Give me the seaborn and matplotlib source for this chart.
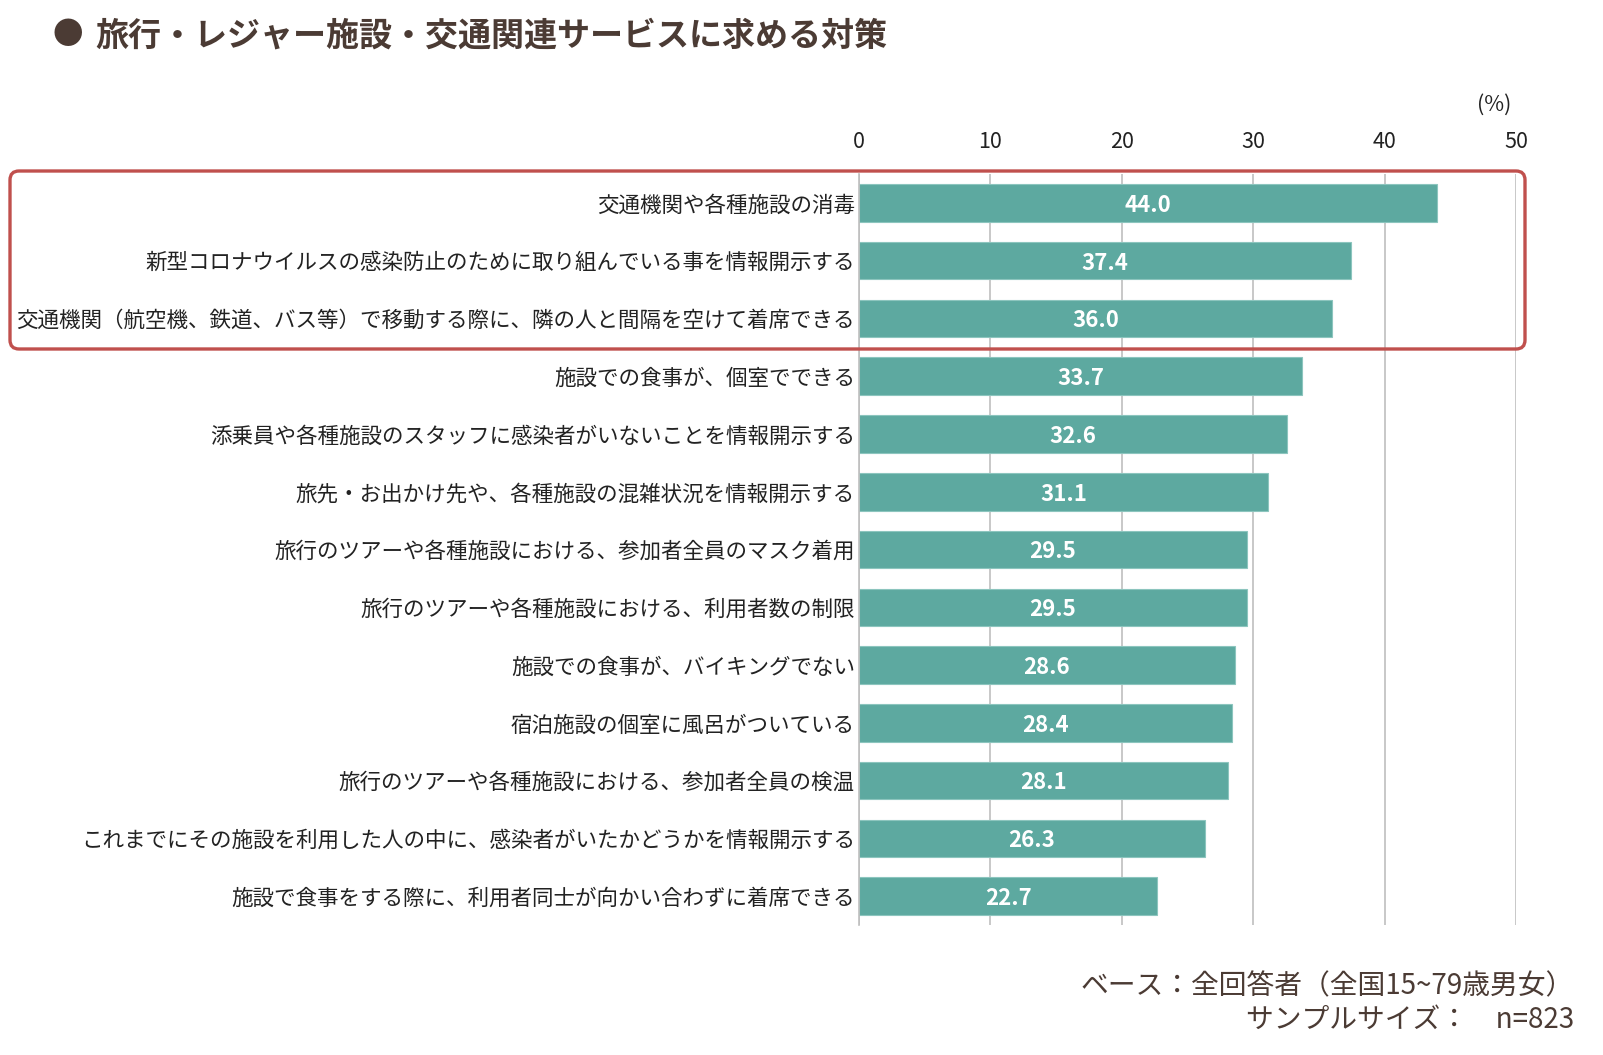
## importando bibliotecas
import matplotlib
matplotlib.use("Agg")
import matplotlib.pyplot as plt
import seaborn as sns
import pandas as pd
from matplotlib.patches import FancyBboxPatch

## dados do gráfico
categorias = [
    "交通機関や各種施設の消毒",
    "新型コロナウイルスの感染防止のために取り組んでいる事を情報開示する",
    "交通機関（航空機、鉄道、バス等）で移動する際に、隣の人と間隔を空けて着席できる",
    "施設での食事が、個室でできる",
    "添乗員や各種施設のスタッフに感染者がいないことを情報開示する",
    "旅先・お出かけ先や、各種施設の混雑状況を情報開示する",
    "旅行のツアーや各種施設における、参加者全員のマスク着用",
    "旅行のツアーや各種施設における、利用者数の制限",
    "施設での食事が、バイキングでない",
    "宿泊施設の個室に風呂がついている",
    "旅行のツアーや各種施設における、参加者全員の検温",
    "これまでにその施設を利用した人の中に、感染者がいたかどうかを情報開示する",
    "施設で食事をする際に、利用者同士が向かい合わずに着席できる",
]
valores = [44.0, 37.4, 36.0, 33.7, 32.6, 31.1, 29.5, 29.5, 28.6, 28.4, 28.1, 26.3, 22.7]
ticks_x = [0, 10, 20, 30, 40, 50]

titulo = "旅行・レジャー施設・交通関連サービスに求める対策"
nota_base = "ベース：全回答者（全国15~79歳男女）"
nota_amostra = "サンプルサイズ：　n=823"

df = pd.DataFrame({"categoria": categorias, "valor": valores})

cor_barra = "#5da9a0"
cor_texto = "#4b3b34"

sns.set_style("white")
plt.rcParams["font.family"] = ["Noto Sans CJK JP", "DejaVu Sans"]

fig = plt.figure(figsize=(16.03, 10.55), dpi=100)
ax = fig.add_axes([0.5359, 0.1232, 0.4099, 0.7118])

sns.barplot(
    data=df,
    x="valor",
    y="categoria",
    orient="h",
    color=cor_barra,
    saturation=1,
    width=0.65,
    edgecolor="#8cc5be",
    linewidth=0.8,
    ax=ax,
)

## rótulos dentro das barras
for i, v in enumerate(valores):
    ax.text(v / 2, i + 0.04, f"{v:.1f}", ha="center", va="center",
            color="white", fontsize=16, fontweight="bold")

## eixos
ax.set_xlim(0, 50)
ax.set_xticks(ticks_x)
ax.xaxis.tick_top()
ax.tick_params(axis="x", length=0, pad=15, labelsize=15.5, labelcolor="#222222")
ax.tick_params(axis="y", which="major", length=0, pad=3, labelsize=15.5, labelcolor="#222222")
ax.set_yticks([i + 0.5 for i in range(-1, len(valores))], minor=True)
ax.tick_params(axis="y", which="minor", length=6, color="#bfbfbf", width=1.2)
ax.set_xlabel("")
ax.set_ylabel("")
ax.grid(axis="x", color="#bfbfbf", linewidth=1.2)
ax.set_axisbelow(True)
for lado in ["top", "right", "bottom"]:
    ax.spines[lado].set_visible(False)
ax.spines["left"].set_color("#bfbfbf")
ax.spines["left"].set_linewidth(1.2)

## título
fig.text(0.033, 0.966, "●", fontsize=22, color=cor_texto, va="center", ha="left")
fig.text(0.0593, 0.966, titulo, fontsize=23.8, fontweight="bold", color=cor_texto,
         va="center", ha="left")

fig.text(0.932, 0.901, "(%)", fontsize=15.5, color="#222222", ha="center", va="center")

## notas
fig.text(0.982, 0.0654, nota_base, fontsize=20, color=cor_texto, ha="right", va="center")
fig.text(0.982, 0.033, nota_amostra, fontsize=20, color=cor_texto, ha="right", va="center")

## destaque vermelho
caixa = FancyBboxPatch(
    (0.10, 7.06), 15.15, 1.78,
    boxstyle="round,pad=0,rounding_size=0.09",
    transform=fig.dpi_scale_trans,
    fill=False, edgecolor="#c0504d", linewidth=2.4,
)
fig.patches.append(caixa)

plt.savefig("out.png", dpi=100)
